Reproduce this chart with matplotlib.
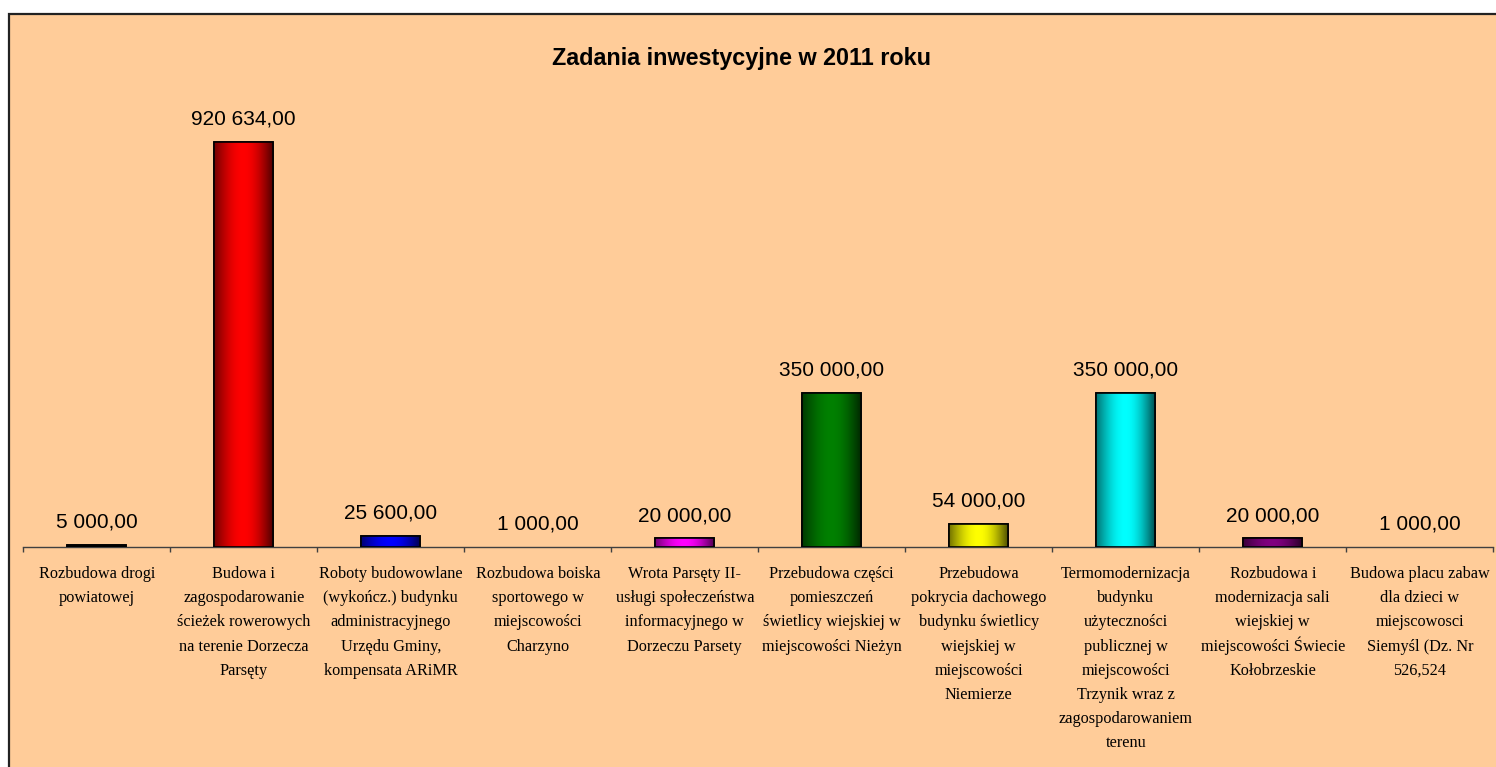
import numpy as np
import matplotlib
matplotlib.use("Agg")
import matplotlib.pyplot as plt
from matplotlib.patches import Rectangle
from matplotlib.colors import to_rgb

title = "Zadania inwestycyjne w 2011 roku"
categories = [
    "Rozbudowa drogi\npowiatowej",
    "Budowa i\nzagospodarowanie\nścieżek rowerowych\nna terenie Dorzecza\nParsęty",
    "Roboty budowowlane\n(wykończ.) budynku\nadministracyjnego\nUrzędu Gminy,\nkompensata ARiMR",
    "Rozbudowa boiska\nsportowego w\nmiejscowości\nCharzyno",
    "Wrota Parsęty II-\nusługi społeczeństwa\ninformacyjnego w\nDorzeczu Parsety",
    "Przebudowa części\npomieszczeń\nświetlicy wiejskiej w\nmiejscowości Nieżyn",
    "Przebudowa\npokrycia dachowego\nbudynku świetlicy\nwiejskiej w\nmiejscowości\nNiemierze",
    "Termomodernizacja\nbudynku\nużyteczności\npublicznej w\nmiejscowości\nTrzynik wraz z\nzagospodarowaniem\nterenu",
    "Rozbudowa i\nmodernizacja sali\nwiejskiej w\nmiejscowości Świecie\nKołobrzeskie",
    "Budowa placu zabaw\ndla dzieci w\nmiejscowosci\nSiemyśl (Dz. Nr\n526,524",
]
values = [5000.00, 920634.00, 25600.00, 1000.00, 20000.00,
          350000.00, 54000.00, 350000.00, 20000.00, 1000.00]
colors = ["#000000", "#FF0000", "#0000FF", "#FFFFFF", "#FF00FF",
          "#008000", "#FFFF00", "#00FFFF", "#800080", "#008080"]

W, H = 1496, 767
fig = plt.figure(figsize=(W / 100, H / 100), dpi=100)
fig.patch.set_facecolor("white")

# chart area background with border
bg = Rectangle((8.5 / W, -0.1), 1.2, (H - 13.5) / H + 0.1,
               transform=fig.transFigure, facecolor="#FFCC99",
               edgecolor="#222222", linewidth=1.6, zorder=-5)
fig.patches.append(bg)

base_y = 547.3
top_y = base_y - 1e6 * 405.3 / 920634
ax = fig.add_axes([23.3 / W, (H - base_y) / H, 1470 / W, (base_y - top_y) / H])
ax.set_facecolor("none")
ax.set_zorder(2)

n = len(values)
x = np.arange(n)
bw = 0.40

# gradient profile (dark - light - dark)
t = np.linspace(0, 1, 200)
prof = np.where(t < 0.5, 0.45 + 0.55 * np.sin(t / 0.5 * np.pi / 2),
                0.32 + 0.68 * np.cos((t - 0.5) / 0.5 * np.pi / 2))

for xi, v, c in zip(x, values, colors):
    rgb = np.array(to_rgb(c))
    tiny = v < 3000
    bar = ax.bar(xi, v, width=bw, color=c,
                 edgecolor="black" if not tiny else "none",
                 linewidth=1.2, zorder=3)[0]
    if not tiny:
        img = (prof[None, :, None] * rgb[None, None, :])
        im = ax.imshow(img, extent=(xi - bw / 2, xi + bw / 2, 0, v),
                       aspect="auto", interpolation="bilinear", zorder=3.5)
        im.set_clip_path(bar)
        ax.bar(xi, v, width=bw, facecolor="none", edgecolor="black",
               linewidth=1.2, zorder=4)
    s = f"{v:,.2f}".replace(",", " ").replace(".", ",")
    ax.annotate(s, (xi, v), xytext=(0, 16.5), textcoords="offset points",
                ha="center", va="center", fontsize=15,
                family="Liberation Sans", color="black", zorder=5)

ax.set_xlim(-0.5, n - 0.5)
ax.set_ylim(0, 1e6)

for sp in ["top", "right", "left"]:
    ax.spines[sp].set_visible(False)
ax.spines["bottom"].set_color("#404040")
ax.spines["bottom"].set_linewidth(1.0)
ax.set_yticks([])

ax.set_xticks(np.arange(n + 1) - 0.5)
ax.set_xticklabels([])
ax.tick_params(axis="x", which="major", direction="out", length=3.5,
               width=1.0, color="#404040")

# category labels, line by line with a fixed pitch
first_base = 22.3   # points below axis
pitch = 17.35       # points
for xi, cat in zip(x, categories):
    for i, line in enumerate(cat.split("\n")):
        ax.annotate(line, (xi, 0), xycoords=("data", "axes fraction"),
                    xytext=(0, -(first_base + i * pitch)),
                    textcoords="offset points", ha="center", va="baseline",
                    family="Liberation Serif", fontsize=11.7, color="black",
                    annotation_clip=False)

fig.text(741 / W, (H - 59) / H, title, ha="center", va="center",
         fontsize=16.8, fontweight="bold", family="Liberation Sans", zorder=3)

fig.savefig("out.png", dpi=100)
